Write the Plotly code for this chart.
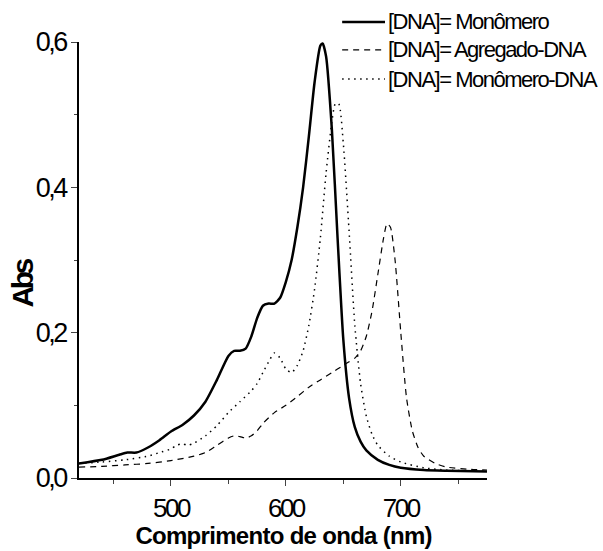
import plotly.graph_objects as go

# Wavelength (nm) and absorbance values
wl_mono = [420, 440, 455, 462, 470, 480, 490, 500, 510, 520, 530, 540, 550, 555, 560, 565, 570,
           575, 580, 585, 590, 595, 600, 605, 610, 615, 620, 625, 630, 632, 635, 640, 645, 650,
           655, 660, 665, 670, 680, 690, 700, 720, 740, 775]
abs_mono = [0.020, 0.025, 0.032, 0.035, 0.035, 0.042, 0.052, 0.064, 0.073, 0.086, 0.105, 0.135,
            0.168, 0.175, 0.175, 0.178, 0.195, 0.220, 0.237, 0.240, 0.240, 0.248, 0.270, 0.300,
            0.345, 0.400, 0.470, 0.545, 0.595, 0.598, 0.580, 0.480, 0.330, 0.190, 0.110, 0.070,
            0.050, 0.038, 0.025, 0.018, 0.014, 0.011, 0.010, 0.009]

wl_agreg = [420, 440, 460, 480, 500, 520, 530, 540, 550, 555, 560, 565, 570, 575, 580, 590, 600,
            610, 620, 630, 640, 650, 655, 660, 665, 670, 675, 680, 685, 688, 691, 695, 700, 705,
            710, 715, 720, 730, 740, 760, 775]
abs_agreg = [0.015, 0.016, 0.018, 0.020, 0.024, 0.030, 0.035, 0.045, 0.055, 0.058, 0.057, 0.055,
             0.058, 0.065, 0.075, 0.090, 0.100, 0.112, 0.125, 0.135, 0.145, 0.155, 0.160, 0.165,
             0.175, 0.195, 0.230, 0.280, 0.330, 0.350, 0.345, 0.300, 0.200, 0.110, 0.065, 0.042,
             0.030, 0.020, 0.015, 0.012, 0.011]

wl_monodna = [420, 440, 460, 480, 490, 500, 505, 510, 515, 520, 530, 540, 550, 560, 570, 575, 580,
              585, 590, 595, 600, 605, 610, 615, 620, 625, 630, 635, 640, 643, 646, 650, 655, 660,
              665, 670, 675, 680, 690, 700, 720, 740, 775]
abs_monodna = [0.020, 0.022, 0.025, 0.030, 0.035, 0.040, 0.045, 0.047, 0.045, 0.048, 0.058, 0.072,
               0.090, 0.105, 0.120, 0.130, 0.145, 0.160, 0.172, 0.165, 0.150, 0.145, 0.155, 0.175,
               0.210, 0.260, 0.330, 0.420, 0.490, 0.515, 0.515, 0.460, 0.340, 0.210, 0.130, 0.085,
               0.060, 0.045, 0.030, 0.022, 0.014, 0.011, 0.009]

names = ["[DNA]= Monômero", "[DNA]= Agregado-DNA", "[DNA]= Monômero-DNA"]
x_ticks = [500, 600, 700]
y_ticks = [0.0, 0.2, 0.4, 0.6]

FONT = "Liberation Sans, Arial, sans-serif"

styles = [dict(color="black", width=2.5),
          dict(color="black", width=1.2, dash="6px,5px"),
          dict(color="black", width=1.5, dash="1.5px,4.5px")]
series = [(wl_mono, abs_mono), (wl_agreg, abs_agreg), (wl_monodna, abs_monodna)]

fig = go.Figure()
for (xs, ys), nm, st in zip(series, names, styles):
    fig.add_trace(go.Scatter(x=xs, y=ys, mode="lines", name=nm, showlegend=False,
                             line=dict(shape="spline", smoothing=0.6, **st)))

# Hand-built legend (line samples + labels) placed top right, as in the reference
leg_rows_y = [1.046, 0.982, 0.915]
shapes, annotations = [], []
for nm, st, yy in zip(names, styles, leg_rows_y):
    shapes.append(dict(type="line", xref="paper", yref="paper", x0=0.645, x1=0.750, y0=yy, y1=yy,
                       line=st))
    annotations.append(dict(text=nm, xref="paper", yref="paper", x=0.752, y=yy, xanchor="left",
                            yanchor="middle", align="left", showarrow=False,
                            font=dict(family=FONT, size=22, color="black")))

annotations += [
    dict(text="<b>Comprimento de onda (nm)</b>", xref="paper", yref="paper", x=0.5, y=-0.131,
         xanchor="center", yanchor="middle", showarrow=False,
         font=dict(family=FONT, size=24, color="black")),
    dict(text="<b>Abs</b>", xref="paper", yref="paper", x=-0.138, y=0.445, textangle=-90,
         xanchor="center", yanchor="middle", showarrow=False,
         font=dict(family=FONT, size=30, color="black")),
]

fig.update_layout(
    width=603, height=551,
    margin=dict(l=79, r=116, t=42, b=73, autoexpand=False),
    paper_bgcolor="white", plot_bgcolor="white",
    separators=", ",
    font=dict(family=FONT, color="black", size=26),
    showlegend=False,
    xaxis=dict(range=[420, 775], tickvals=x_ticks, ticks="outside", ticklen=6, tickwidth=1.3,
               showline=True, linecolor="black", linewidth=1.5, showgrid=False, zeroline=False,
               tickfont=dict(family=FONT, size=26, color="black"),
               minor=dict(ticks="outside", ticklen=4, dtick=50, tick0=450, tickwidth=1.3, showgrid=False)),
    yaxis=dict(range=[0, 0.6], tickvals=y_ticks, tickformat=".1f", ticks="outside", ticklen=6,
               tickwidth=1.3, showline=True, linecolor="black", linewidth=1.5, showgrid=False,
               zeroline=False, tickfont=dict(family=FONT, size=27, color="black"),
               minor=dict(ticks="outside", ticklen=3, dtick=0.1, tick0=0, tickwidth=1.3, showgrid=False)),
    shapes=shapes,
    annotations=annotations,
)

post = """
var gd = document.getElementById('{plot_id}');
function tight(){
  gd.querySelectorAll('.xtick text, .ytick text').forEach(function(t){t.style.letterSpacing='-2.5px';});
  var ann = gd.querySelectorAll('.annotation-text');
  for (var i = 0; i < ann.length; i++) {
    var s = ann[i].textContent;
    if (s.indexOf('[DNA]') === 0) ann[i].style.letterSpacing = '-1.5px';
    else if (s.indexOf('Comprimento') === 0) ann[i].style.letterSpacing = '-0.7px';
    else if (s === 'Abs') ann[i].style.letterSpacing = '-3.5px';
  }
}
tight();
gd.on('plotly_afterplot', tight);
"""

fig.write_html("out.html", post_script=post)
